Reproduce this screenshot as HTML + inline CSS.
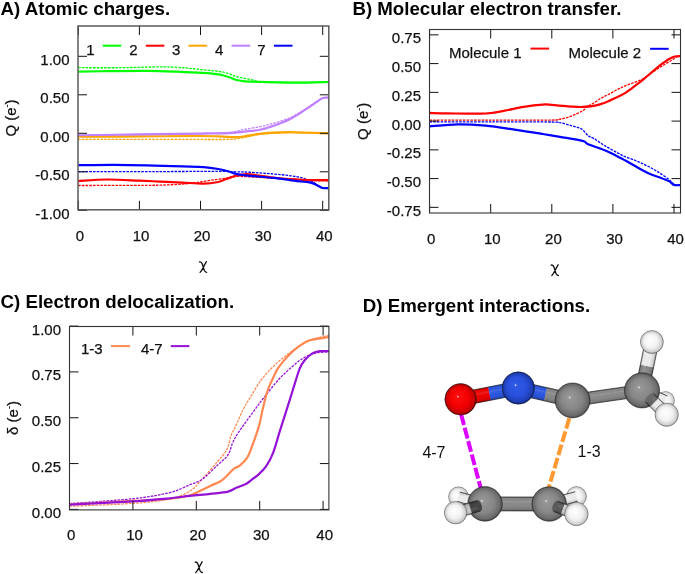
<!DOCTYPE html>
<html><head><meta charset="utf-8"><style>
html,body{margin:0;padding:0;background:#fff;}
svg{display:block;}
text{font-family:"Liberation Sans", sans-serif;fill:#111;}
.tl{font-size:15px;stroke:#111;stroke-width:0.25px;}
.tt{font-size:18.7px;font-weight:bold;fill:#000;}
</style></head><body>
<svg width="685" height="574" viewBox="0 0 685 574">
<defs>
<clipPath id="cA"><rect x="78.0" y="26.0" width="250.8" height="183.8"/></clipPath>
<clipPath id="cB"><rect x="429.5" y="29.5" width="251.0" height="183.5"/></clipPath>
<clipPath id="cC"><rect x="69.5" y="326.5" width="259.4" height="183.39999999999998"/></clipPath>
</defs>
<rect width="685" height="574" fill="#fff"/>
<g style="opacity:0.999">

<text x="0.5" y="14.8" class="tt">A) Atomic charges.</text>
<text x="352.4" y="14.8" class="tt">B) Molecular electron transfer.</text>
<text x="0.5" y="307.5" class="tt">C) Electron delocalization.</text>
<text x="362.8" y="312.4" class="tt">D) Emergent interactions.</text>
<path d="M78.30,67.70 C85.22,67.70 105.59,67.84 119.85,67.70 C134.10,67.55 152.84,66.80 163.84,66.85 C174.84,66.90 179.73,67.55 185.84,68.00 C191.95,68.45 194.80,68.95 200.50,69.54 C206.20,70.13 215.27,70.83 220.05,71.55 C224.84,72.26 226.47,73.02 229.22,73.86 C231.97,74.69 232.58,75.52 236.55,76.55 C240.52,77.58 248.97,79.22 253.05,80.02 C257.12,80.81 256.51,80.97 260.99,81.33 C265.47,81.68 272.70,81.98 279.93,82.17 C287.16,82.36 296.22,82.51 304.37,82.48 C312.52,82.45 324.74,82.09 328.81,82.02" fill="none" stroke="#00ff00" stroke-width="1.3" stroke-dasharray="2.6 1.1" clip-path="url(#cA)"/>
<path d="M78.30,185.51 C88.48,185.48 125.75,185.42 139.40,185.35 C153.05,185.29 153.05,185.33 160.17,185.12 C167.30,184.92 176.16,184.54 182.17,184.12 C188.18,183.70 191.44,183.22 196.22,182.58 C201.01,181.94 206.00,181.00 210.89,180.27 C215.78,179.54 221.38,178.83 225.55,178.19 C229.73,177.55 231.86,176.64 235.94,176.42 C240.01,176.20 243.68,176.56 249.99,176.88 C256.30,177.20 265.78,177.91 273.82,178.34 C281.86,178.78 291.13,179.12 298.26,179.50 C305.39,179.88 311.50,180.40 316.59,180.66 C321.68,180.91 326.77,180.98 328.81,181.04" fill="none" stroke="#ff0000" stroke-width="1.3" stroke-dasharray="2.6 1.1" clip-path="url(#cA)"/>
<path d="M78.30,139.46 C88.48,139.43 119.44,139.31 139.40,139.31 C159.36,139.31 182.98,139.46 198.06,139.46 C213.13,139.46 222.09,139.65 229.83,139.31 C237.57,138.96 239.60,138.18 244.49,137.38 C249.38,136.59 254.27,135.21 259.16,134.53 C264.04,133.85 268.93,133.61 273.82,133.30 C278.71,132.99 283.39,132.81 288.48,132.68 C293.58,132.56 297.65,132.45 304.37,132.53 C311.09,132.61 324.74,133.04 328.81,133.15" fill="none" stroke="#ffa500" stroke-width="1.3" stroke-dasharray="2.6 1.1" clip-path="url(#cA)"/>
<path d="M78.30,135.76 C88.48,135.61 119.44,135.19 139.40,134.84 C159.36,134.49 182.98,134.10 198.06,133.69 C213.13,133.27 222.09,133.08 229.83,132.38 C237.57,131.67 239.46,130.40 244.49,129.45 C249.52,128.50 255.72,127.55 260.01,126.68 C264.30,125.81 266.81,125.13 270.22,124.21 C273.62,123.30 277.01,122.34 280.42,121.21 C283.83,120.08 287.27,119.02 290.68,117.44 C294.10,115.86 297.49,113.79 300.89,111.74 C304.29,109.69 308.37,106.89 311.09,105.12 C313.81,103.35 315.25,102.35 317.20,101.11 C319.16,99.88 320.89,98.34 322.82,97.73 C324.76,97.11 327.81,97.47 328.81,97.42" fill="none" stroke="#c080ff" stroke-width="1.3" stroke-dasharray="2.6 1.1" clip-path="url(#cA)"/>
<path d="M78.30,171.57 C90.52,171.57 128.30,171.59 151.62,171.57 C174.94,171.54 204.17,171.38 218.22,171.42 C232.27,171.45 230.64,171.66 235.94,171.80 C241.23,171.94 243.78,171.90 249.99,172.26 C256.20,172.62 266.39,173.37 273.21,173.96 C280.03,174.55 286.04,175.14 290.93,175.80 C295.82,176.47 299.69,177.24 302.54,177.96 C305.39,178.68 306.20,179.41 308.04,180.12 C309.87,180.82 311.91,181.27 313.54,182.20 C315.16,183.12 316.28,184.70 317.81,185.66 C319.34,186.62 320.87,187.59 322.70,187.97 C324.53,188.35 327.79,187.97 328.81,187.97" fill="none" stroke="#0000ff" stroke-width="1.3" stroke-dasharray="2.6 1.1" clip-path="url(#cA)"/>
<path d="M78.30,71.55 C83.39,71.48 97.34,71.26 108.85,71.16 C120.36,71.06 136.04,70.84 147.34,70.93 C158.65,71.02 167.81,71.38 176.67,71.70 C185.53,72.02 194.90,72.56 200.50,72.86 C206.10,73.15 207.02,73.18 210.28,73.47 C213.53,73.77 216.90,74.00 220.05,74.63 C223.21,75.25 226.47,76.35 229.22,77.24 C231.97,78.14 233.90,79.34 236.55,80.02 C239.20,80.70 240.72,80.99 245.10,81.33 C249.48,81.66 254.06,81.79 262.82,82.02 C271.58,82.25 286.65,82.71 297.65,82.71 C308.65,82.71 323.62,82.13 328.81,82.02" fill="none" stroke="#00ff00" stroke-width="2.2" stroke-linejoin="round" clip-path="url(#cA)"/>
<path d="M78.30,181.04 C83.09,180.78 96.83,179.56 107.02,179.50 C117.20,179.44 130.54,180.31 139.40,180.66 C148.26,181.00 153.05,181.26 160.17,181.58 C167.30,181.90 174.94,182.25 182.17,182.58 C189.40,182.91 197.55,183.68 203.56,183.58 C209.56,183.48 214.65,182.64 218.22,181.96 C221.78,181.28 222.80,180.27 224.94,179.50 C227.08,178.73 229.22,177.99 231.05,177.34 C232.88,176.70 234.10,176.10 235.94,175.65 C237.77,175.20 239.71,174.87 242.05,174.65 C244.39,174.43 244.80,173.87 249.99,174.34 C255.18,174.82 265.37,176.64 273.21,177.50 C281.05,178.36 291.23,179.08 297.04,179.50 C302.84,179.92 302.74,179.95 308.04,180.04 C313.33,180.13 325.35,180.04 328.81,180.04" fill="none" stroke="#ff0000" stroke-width="2.2" stroke-linejoin="round" clip-path="url(#cA)"/>
<path d="M78.30,136.77 C88.48,136.70 119.44,136.51 139.40,136.38 C159.36,136.25 184.82,136.00 198.06,136.00 C211.29,136.00 212.31,136.19 218.83,136.38 C225.35,136.57 232.88,137.15 237.16,137.15 C241.44,137.15 240.83,136.93 244.49,136.38 C248.16,135.83 254.27,134.47 259.16,133.84 C264.04,133.21 268.93,132.90 273.82,132.61 C278.71,132.31 283.60,132.07 288.48,132.07 C293.37,132.07 296.43,132.40 303.15,132.61 C309.87,132.81 324.53,133.18 328.81,133.30" fill="none" stroke="#ffa500" stroke-width="2.2" stroke-linejoin="round" clip-path="url(#cA)"/>
<path d="M78.30,135.23 C88.48,135.10 119.44,134.74 139.40,134.46 C159.36,134.17 182.98,133.76 198.06,133.53 C213.13,133.30 222.09,133.39 229.83,133.07 C237.57,132.75 239.46,132.16 244.49,131.61 C249.52,131.05 255.72,130.54 260.01,129.76 C264.30,128.98 266.81,128.00 270.22,126.91 C273.62,125.82 277.01,124.57 280.42,123.21 C283.83,121.85 287.27,120.51 290.68,118.75 C294.10,116.99 297.49,114.82 300.89,112.66 C304.29,110.51 308.37,107.66 311.09,105.81 C313.81,103.96 315.25,102.87 317.20,101.58 C319.16,100.28 320.89,98.68 322.82,98.03 C324.76,97.39 327.81,97.78 328.81,97.73" fill="none" stroke="#c080ff" stroke-width="2.2" stroke-linejoin="round" clip-path="url(#cA)"/>
<path d="M78.30,165.18 C84.41,165.13 102.33,164.79 114.96,164.87 C127.59,164.95 142.86,165.38 154.06,165.64 C165.27,165.90 173.92,166.18 182.17,166.41 C190.42,166.64 197.55,166.59 203.56,167.03 C209.56,167.46 213.84,168.23 218.22,169.03 C222.60,169.82 226.87,170.99 229.83,171.80 C232.78,172.61 232.58,173.21 235.94,173.88 C239.30,174.55 243.78,175.12 249.99,175.80 C256.20,176.48 265.37,177.09 273.21,177.96 C281.05,178.83 291.23,180.33 297.04,181.04 C302.84,181.75 305.39,181.81 308.04,182.20 C310.68,182.58 311.29,182.77 312.92,183.35 C314.55,183.93 316.18,184.89 317.81,185.66 C319.44,186.43 320.87,187.59 322.70,187.97 C324.53,188.35 327.79,187.97 328.81,187.97" fill="none" stroke="#0000ff" stroke-width="2.2" stroke-linejoin="round" clip-path="url(#cA)"/>
<path d="M78.30,209.80 v-9 M78.30,26.00 v9 M139.40,209.80 v-9 M139.40,26.00 v9 M200.50,209.80 v-9 M200.50,26.00 v9 M261.60,209.80 v-9 M261.60,26.00 v9 M322.70,209.80 v-9 M322.70,26.00 v9 M78.00,56.30 h9 M328.80,56.30 h-9 M78.00,94.80 h9 M328.80,94.80 h-9 M78.00,133.30 h9 M328.80,133.30 h-9 M78.00,171.80 h9 M328.80,171.80 h-9 M78.00,210.30 h9 M328.80,210.30 h-9" stroke="#111" stroke-width="1" fill="none"/>
<rect x="78.00" y="26.00" width="250.80" height="183.80" fill="none" stroke="#555" stroke-width="1.45"/>
<text x="79.90" y="240.50" text-anchor="middle" class="tl">0</text>
<text x="141.00" y="240.50" text-anchor="middle" class="tl">10</text>
<text x="202.10" y="240.50" text-anchor="middle" class="tl">20</text>
<text x="263.20" y="240.50" text-anchor="middle" class="tl">30</text>
<text x="324.30" y="240.50" text-anchor="middle" class="tl">40</text>
<text x="69.50" y="64.70" text-anchor="end" class="tl">1.00</text>
<text x="69.50" y="103.20" text-anchor="end" class="tl">0.50</text>
<text x="69.50" y="141.70" text-anchor="end" class="tl">0.00</text>
<text x="69.50" y="180.20" text-anchor="end" class="tl">-0.50</text>
<text x="69.50" y="218.70" text-anchor="end" class="tl">-1.00</text>
<text x="90.3" y="54.6" text-anchor="middle" class="tl">1</text>
<path d="M102.7,45.7 h18.6" stroke="#00ff00" stroke-width="2"/>
<text x="133.4" y="54.6" text-anchor="middle" class="tl">2</text>
<path d="M145.8,45.7 h18.6" stroke="#ff0000" stroke-width="2"/>
<text x="176.1" y="54.6" text-anchor="middle" class="tl">3</text>
<path d="M188.5,45.7 h18.6" stroke="#ffa500" stroke-width="2"/>
<text x="219.2" y="54.6" text-anchor="middle" class="tl">4</text>
<path d="M231.6,45.7 h18.6" stroke="#c080ff" stroke-width="2"/>
<text x="261.5" y="54.6" text-anchor="middle" class="tl">7</text>
<path d="M273.9,45.7 h18.6" stroke="#0000ff" stroke-width="2"/>
<text transform="translate(16.4,118) rotate(-90)" text-anchor="middle" class="tl">Q (e<tspan font-size="9" dy="-6">-</tspan><tspan dy="6">)</tspan></text>
<path d="M-3.8,-5.0 C-2.6,-5.3 -1.5,-4.6 -0.9,-2.6 C-0.2,-0.4 0.4,1.9 1.1,3.7 C1.6,4.9 2.5,5.4 3.4,5.4 M3.1,-5.3 C1.9,-3.3 0.8,-1.3 -0.1,0.7 C-1.1,2.7 -2.2,4.3 -3.2,5.5" transform="translate(203.30,266.90)" fill="none" stroke="#111" stroke-width="1.3" stroke-linecap="round"/>
<path d="M429.60,120.18 C439.78,120.18 470.33,120.20 490.70,120.18 C511.07,120.16 540.25,120.22 551.80,120.06 C563.35,119.91 556.74,119.93 559.99,119.26 C563.24,118.59 567.52,117.44 571.29,116.04 C575.06,114.64 579.94,112.46 582.59,110.86 C585.25,109.27 585.17,107.93 587.24,106.49 C589.31,105.06 592.84,103.52 595.00,102.24 C597.16,100.96 598.44,99.84 600.19,98.79 C601.94,97.74 603.76,96.83 605.51,95.91 C607.26,94.99 608.97,94.21 610.70,93.27 C612.43,92.33 614.16,91.20 615.89,90.28 C617.63,89.36 619.57,88.48 621.09,87.75 C622.60,87.02 623.17,86.66 625.00,85.91 C626.82,85.16 629.69,84.15 632.02,83.26 C634.36,82.38 636.91,81.50 638.99,80.62 C641.07,79.74 641.93,79.57 644.49,77.97 C647.04,76.38 651.24,73.18 654.33,71.07 C657.41,68.97 660.04,67.16 663.00,65.32 C665.97,63.48 669.76,61.47 672.11,60.03 C674.45,58.60 675.72,57.35 677.06,56.70 C678.39,56.05 679.60,56.22 680.11,56.12" fill="none" stroke="#ff0000" stroke-width="1.3" stroke-dasharray="2.6 1.1" clip-path="url(#cB)"/>
<path d="M429.60,121.91 C439.78,121.91 470.33,121.89 490.70,121.91 C511.07,121.92 540.25,121.89 551.80,122.02 C563.35,122.15 556.74,122.12 559.99,122.71 C563.24,123.30 567.71,124.53 571.29,125.58 C574.88,126.64 578.66,127.33 581.49,129.03 C584.33,130.74 586.20,134.23 588.28,135.82 C590.35,137.41 591.12,136.87 593.96,138.58 C596.80,140.29 600.99,143.47 605.32,146.06 C609.66,148.64 616.71,152.34 619.99,154.10 C623.27,155.87 622.70,155.68 625.00,156.63 C627.30,157.59 630.88,158.69 633.80,159.85 C636.71,161.02 639.56,162.29 642.47,163.65 C645.38,165.01 648.35,166.43 651.27,168.02 C654.19,169.61 657.09,171.32 660.01,173.19 C662.93,175.07 666.76,177.72 668.81,179.29 C670.85,180.86 671.27,181.72 672.29,182.62 C673.31,183.53 673.61,184.27 674.92,184.69 C676.22,185.12 679.24,185.08 680.11,185.16" fill="none" stroke="#0000ff" stroke-width="1.3" stroke-dasharray="2.6 1.1" clip-path="url(#cB)"/>
<path d="M429.60,112.94 C432.66,113.01 438.56,113.30 447.93,113.39 C457.30,113.49 476.34,113.97 485.81,113.51 C495.28,113.05 498.44,111.75 504.75,110.63 C511.07,109.52 517.38,107.86 523.69,106.84 C530.01,105.82 537.95,104.87 542.63,104.54 C547.32,104.21 548.91,104.71 551.80,104.88 C554.69,105.06 556.73,105.29 559.99,105.57 C563.25,105.86 567.58,106.38 571.35,106.61 C575.12,106.84 578.65,107.13 582.59,106.95 C586.54,106.78 591.18,106.32 595.00,105.57 C598.82,104.83 602.02,103.77 605.51,102.47 C608.99,101.17 612.65,99.31 615.89,97.75 C619.14,96.20 622.31,94.77 625.00,93.16 C627.69,91.55 629.69,89.80 632.02,88.09 C634.36,86.39 636.91,84.53 638.99,82.92 C641.07,81.31 641.93,80.58 644.49,78.44 C647.04,76.29 651.65,72.28 654.33,70.04 C657.00,67.80 658.09,66.82 660.56,64.98 C663.02,63.14 666.77,60.42 669.11,59.00 C671.45,57.58 672.78,56.95 674.61,56.47 C676.44,55.99 679.19,56.18 680.11,56.12" fill="none" stroke="#ff0000" stroke-width="2.2" stroke-linejoin="round" clip-path="url(#cB)"/>
<path d="M429.60,126.39 C434.28,126.05 448.34,124.44 457.71,124.32 C467.07,124.20 476.34,124.82 485.81,125.70 C495.28,126.58 505.06,128.23 514.53,129.61 C524.00,130.99 535.06,132.77 542.63,133.98 C550.21,135.19 553.33,135.70 559.99,136.85 C566.65,138.00 577.88,139.63 582.59,140.88 C587.31,142.13 584.49,142.72 588.28,144.33 C592.06,145.94 600.04,148.32 605.32,150.54 C610.61,152.76 616.71,156.04 619.99,157.67 C623.27,159.30 622.70,159.05 625.00,160.31 C627.30,161.58 630.88,163.59 633.80,165.26 C636.71,166.93 639.56,168.77 642.47,170.32 C645.38,171.87 648.35,173.37 651.27,174.57 C654.19,175.78 657.09,176.47 660.01,177.56 C662.93,178.66 666.76,180.09 668.81,181.13 C670.85,182.16 671.27,183.10 672.29,183.78 C673.31,184.45 673.61,184.93 674.92,185.16 C676.22,185.38 679.24,185.16 680.11,185.16" fill="none" stroke="#0000ff" stroke-width="2.2" stroke-linejoin="round" clip-path="url(#cB)"/>
<path d="M429.60,213.00 v-9 M429.60,29.50 v9 M490.70,213.00 v-9 M490.70,29.50 v9 M551.80,213.00 v-9 M551.80,29.50 v9 M612.90,213.00 v-9 M612.90,29.50 v9 M674.00,213.00 v-9 M674.00,29.50 v9 M429.50,34.85 h9 M680.50,34.85 h-9 M429.50,63.60 h9 M680.50,63.60 h-9 M429.50,92.35 h9 M680.50,92.35 h-9 M429.50,121.10 h9 M680.50,121.10 h-9 M429.50,149.85 h9 M680.50,149.85 h-9 M429.50,178.60 h9 M680.50,178.60 h-9 M429.50,207.35 h9 M680.50,207.35 h-9" stroke="#111" stroke-width="1" fill="none"/>
<rect x="429.50" y="29.50" width="251.00" height="183.50" fill="none" stroke="#333" stroke-width="1.1"/>
<text x="431.20" y="243.50" text-anchor="middle" class="tl">0</text>
<text x="492.30" y="243.50" text-anchor="middle" class="tl">10</text>
<text x="553.40" y="243.50" text-anchor="middle" class="tl">20</text>
<text x="614.50" y="243.50" text-anchor="middle" class="tl">30</text>
<text x="675.60" y="243.50" text-anchor="middle" class="tl">40</text>
<text x="421.00" y="43.25" text-anchor="end" class="tl">0.75</text>
<text x="421.00" y="72.00" text-anchor="end" class="tl">0.50</text>
<text x="421.00" y="100.75" text-anchor="end" class="tl">0.25</text>
<text x="421.00" y="129.50" text-anchor="end" class="tl">0.00</text>
<text x="421.00" y="158.25" text-anchor="end" class="tl">-0.25</text>
<text x="421.00" y="187.00" text-anchor="end" class="tl">-0.50</text>
<text x="421.00" y="215.75" text-anchor="end" class="tl">-0.75</text>
<text x="449" y="57.8" class="tl">Molecule 1</text>
<path d="M530.5,48.6 h18.6" stroke="#ff0000" stroke-width="2"/>
<text x="568.6" y="57.8" class="tl">Molecule 2</text>
<path d="M650.1,48.8 h18.6" stroke="#0000ff" stroke-width="2"/>
<text transform="translate(368.2,121.3) rotate(-90)" text-anchor="middle" class="tl">Q (e<tspan font-size="9" dy="-6">-</tspan><tspan dy="6">)</tspan></text>
<path d="M-3.8,-5.0 C-2.6,-5.3 -1.5,-4.6 -0.9,-2.6 C-0.2,-0.4 0.4,1.9 1.1,3.7 C1.6,4.9 2.5,5.4 3.4,5.4 M3.1,-5.3 C1.9,-3.3 0.8,-1.3 -0.1,0.7 C-1.1,2.7 -2.2,4.3 -3.2,5.5" transform="translate(555.00,270.10)" fill="none" stroke="#111" stroke-width="1.3" stroke-linecap="round"/>
<path d="M69.50,506.28 C80.07,505.80 116.15,504.57 132.90,503.35 C149.65,502.13 160.48,501.00 169.99,498.95 C179.50,496.91 184.62,494.34 189.96,491.07 C195.30,487.80 197.46,484.20 202.01,479.34 C206.55,474.48 213.10,466.87 217.22,461.93 C221.34,456.98 224.41,454.10 226.73,449.64 C229.06,445.18 229.80,438.80 231.17,435.16 C232.54,431.53 232.99,432.08 234.97,427.83 C236.96,423.59 240.50,414.82 243.09,409.68 C245.68,404.55 247.54,401.93 250.51,397.04 C253.48,392.15 257.42,385.15 260.90,380.36 C264.39,375.56 267.94,371.83 271.43,368.26 C274.92,364.68 278.35,361.78 281.83,358.91 C285.30,356.04 288.16,353.90 292.29,351.03 C296.42,348.16 302.54,343.85 306.62,341.68 C310.69,339.51 312.96,339.08 316.76,338.01 C320.56,336.95 327.33,335.72 329.44,335.26" fill="none" stroke="#ff8850" stroke-width="1.3" stroke-dasharray="2.6 1.1" clip-path="url(#cC)"/>
<path d="M69.50,503.53 C80.07,502.74 116.15,500.60 132.90,498.77 C149.65,496.94 160.48,494.89 169.99,492.54 C179.50,490.18 184.62,486.85 189.96,484.65 C195.30,482.45 197.46,482.55 202.01,479.34 C206.55,476.13 212.89,469.47 217.22,465.41 C221.55,461.34 225.46,458.63 228.00,454.96 C230.54,451.29 230.75,447.08 232.44,443.41 C234.13,439.75 234.61,438.31 238.14,432.96 C241.67,427.62 248.96,417.69 253.61,411.33 C258.26,404.98 261.34,400.70 266.04,394.84 C270.74,388.97 276.24,381.85 281.83,376.14 C287.42,370.43 294.92,364.07 299.58,360.56 C304.24,357.05 306.71,356.38 309.79,355.06 C312.86,353.75 314.75,353.23 318.03,352.68 C321.30,352.13 327.54,351.91 329.44,351.76" fill="none" stroke="#9612d6" stroke-width="1.3" stroke-dasharray="2.6 1.1" clip-path="url(#cC)"/>
<path d="M69.50,504.27 C80.07,503.72 116.15,501.88 132.90,500.97 C149.65,500.05 160.48,499.72 169.99,498.77 C179.50,497.82 183.25,497.42 189.96,495.29 C196.67,493.15 204.86,488.47 210.25,485.94 C215.64,483.40 218.38,482.91 222.29,480.07 C226.20,477.23 230.75,471.33 233.71,468.89 C236.66,466.45 237.83,467.24 240.05,465.41 C242.26,463.57 245.01,461.10 247.02,457.89 C249.03,454.68 250.08,451.54 252.09,446.16 C254.10,440.78 257.33,431.65 259.07,425.63 C260.80,419.61 261.14,415.70 262.49,410.05 C263.84,404.40 265.69,396.49 267.18,391.72 C268.67,386.96 269.70,385.28 271.43,381.46 C273.16,377.64 275.33,372.47 277.58,368.81 C279.83,365.14 282.13,362.61 284.93,359.46 C287.73,356.31 290.77,352.92 294.38,349.93 C297.99,346.94 302.89,343.33 306.62,341.50 C310.35,339.66 312.96,339.69 316.76,338.93 C320.56,338.17 327.33,337.25 329.44,336.91" fill="none" stroke="#ff8850" stroke-width="2.2" stroke-linejoin="round" clip-path="url(#cC)"/>
<path d="M69.50,504.63 C80.07,504.08 116.15,502.40 132.90,501.33 C149.65,500.27 160.48,499.14 169.99,498.22 C179.50,497.30 183.25,496.57 189.96,495.84 C196.67,495.10 203.91,494.52 210.25,493.82 C216.59,493.12 223.67,492.63 228.00,491.62 C232.33,490.61 233.18,489.08 236.24,487.77 C239.31,486.46 243.74,485.14 246.39,483.74 C249.03,482.33 250.19,480.77 252.09,479.34 C253.99,477.90 255.47,477.29 257.80,475.12 C260.12,472.95 263.50,469.99 266.04,466.32 C268.58,462.66 270.69,459.08 273.01,453.13 C275.34,447.17 277.74,437.76 279.99,430.58 C282.24,423.40 284.47,416.53 286.52,410.05 C288.57,403.57 290.11,398.60 292.29,391.72 C294.46,384.85 297.51,374.06 299.58,368.81 C301.65,363.55 302.59,362.76 304.71,360.19 C306.84,357.63 309.79,354.91 312.32,353.41 C314.86,351.91 317.08,351.58 319.93,351.21 C322.78,350.85 327.86,351.21 329.44,351.21" fill="none" stroke="#9612d6" stroke-width="2.2" stroke-linejoin="round" clip-path="url(#cC)"/>
<path d="M69.50,509.90 v-9 M69.50,326.50 v9 M132.90,509.90 v-9 M132.90,326.50 v9 M196.30,509.90 v-9 M196.30,326.50 v9 M259.70,509.90 v-9 M259.70,326.50 v9 M323.10,509.90 v-9 M323.10,326.50 v9 M69.50,326.10 h9 M328.90,326.10 h-9 M69.50,371.92 h9 M328.90,371.92 h-9 M69.50,417.75 h9 M328.90,417.75 h-9 M69.50,463.57 h9 M328.90,463.57 h-9 M69.50,509.40 h9 M328.90,509.40 h-9" stroke="#111" stroke-width="1" fill="none"/>
<rect x="69.50" y="326.50" width="259.40" height="183.40" fill="none" stroke="#333" stroke-width="1.1"/>
<text x="71.10" y="540.30" text-anchor="middle" class="tl">0</text>
<text x="134.50" y="540.30" text-anchor="middle" class="tl">10</text>
<text x="197.90" y="540.30" text-anchor="middle" class="tl">20</text>
<text x="261.30" y="540.30" text-anchor="middle" class="tl">30</text>
<text x="324.70" y="540.30" text-anchor="middle" class="tl">40</text>
<text x="61.00" y="334.50" text-anchor="end" class="tl">1.00</text>
<text x="61.00" y="380.32" text-anchor="end" class="tl">0.75</text>
<text x="61.00" y="426.15" text-anchor="end" class="tl">0.50</text>
<text x="61.00" y="471.97" text-anchor="end" class="tl">0.25</text>
<text x="61.00" y="517.80" text-anchor="end" class="tl">0.00</text>
<text x="81" y="354" class="tl">1-3</text>
<path d="M111,346.1 h19" stroke="#ff8850" stroke-width="2"/>
<text x="141" y="354" class="tl">4-7</text>
<path d="M170.8,346.1 h18.6" stroke="#9612d6" stroke-width="2"/>
<text transform="translate(17.5,418) rotate(-90)" text-anchor="middle" class="tl">δ (e<tspan font-size="9" dy="-6">-</tspan><tspan dy="6">)</tspan></text>
<path d="M-3.8,-5.0 C-2.6,-5.3 -1.5,-4.6 -0.9,-2.6 C-0.2,-0.4 0.4,1.9 1.1,3.7 C1.6,4.9 2.5,5.4 3.4,5.4 M3.1,-5.3 C1.9,-3.3 0.8,-1.3 -0.1,0.7 C-1.1,2.7 -2.2,4.3 -3.2,5.5" transform="translate(199.00,567.10)" fill="none" stroke="#111" stroke-width="1.3" stroke-linecap="round"/>
<defs>
<radialGradient id="gC" cx="0.5" cy="0.5" r="0.5" fx="0.4" fy="0.4" gradientUnits="objectBoundingBox"><stop offset="0" stop-color="#9a9a9a"/><stop offset="0.6" stop-color="#868686"/><stop offset="0.9" stop-color="#6a6a6a"/><stop offset="1" stop-color="#404040"/></radialGradient>
<radialGradient id="gO" cx="0.5" cy="0.5" r="0.5" fx="0.4" fy="0.4" gradientUnits="objectBoundingBox"><stop offset="0" stop-color="#ff1010"/><stop offset="0.6" stop-color="#f20000"/><stop offset="0.9" stop-color="#c00000"/><stop offset="1" stop-color="#700000"/></radialGradient>
<radialGradient id="gN" cx="0.5" cy="0.5" r="0.5" fx="0.4" fy="0.4" gradientUnits="objectBoundingBox"><stop offset="0" stop-color="#2f5ce8"/><stop offset="0.6" stop-color="#2850dc"/><stop offset="0.9" stop-color="#1c3cb0"/><stop offset="1" stop-color="#0e2070"/></radialGradient>
<radialGradient id="gH" cx="0.5" cy="0.5" r="0.5" fx="0.4" fy="0.4" gradientUnits="objectBoundingBox"><stop offset="0" stop-color="#ffffff"/><stop offset="0.6" stop-color="#f2f2f2"/><stop offset="0.9" stop-color="#cdcdcd"/><stop offset="1" stop-color="#8c8c8c"/></radialGradient>
<linearGradient id="cyl" x1="0" y1="0" x2="0" y2="1"><stop offset="0" stop-color="#000" stop-opacity="0.35"/><stop offset="0.12" stop-color="#000" stop-opacity="0.0"/><stop offset="0.35" stop-color="#fff" stop-opacity="0.12"/><stop offset="0.6" stop-color="#000" stop-opacity="0.0"/><stop offset="0.88" stop-color="#000" stop-opacity="0.12"/><stop offset="1" stop-color="#000" stop-opacity="0.40"/></linearGradient>
</defs>
<path d="M457.6,401.1 L482,493" stroke="#dd00ff" stroke-width="4" stroke-dasharray="11 2.8"/>
<path d="M573.3,404.9 L548,490" stroke="#ff9a33" stroke-width="4" stroke-dasharray="11 2.8"/>
<circle cx="665.50" cy="400.50" r="9.00" fill="url(#gH)" stroke="#1a1a1a" stroke-width="0.8" stroke-opacity="0.35"/>
<g transform="translate(642.00,390.40) rotate(23.26)">
<rect x="0" y="-5.00" width="13.09" height="10.00" fill="#8a8a8a"/>
<rect x="12.79" y="-5.00" width="12.79" height="10.00" fill="#efefef"/>
<rect x="0" y="-5.00" width="25.58" height="10.00" fill="url(#cyl)"/>
<path d="M0,-5.00 H25.58 M0,5.00 H25.58" stroke="#1a1a1a" stroke-width="0.8" stroke-opacity="0.75"/>
</g>
<g transform="translate(642.00,390.40) rotate(-78.44)">
<rect x="0" y="-6.75" width="25.00" height="13.50" fill="#8a8a8a"/>
<rect x="24.70" y="-6.75" width="24.70" height="13.50" fill="#efefef"/>
<rect x="0" y="-6.75" width="49.40" height="13.50" fill="url(#cyl)"/>
<path d="M0,-6.75 H49.40 M0,6.75 H49.40" stroke="#1a1a1a" stroke-width="0.8" stroke-opacity="0.75"/>
</g>
<circle cx="651.90" cy="342.00" r="11.50" fill="url(#gH)" stroke="#1a1a1a" stroke-width="0.8" stroke-opacity="0.35"/>
<circle cx="649.94" cy="340.05" r="0.9" fill="#fff" fill-opacity="0.75"/>
<g transform="translate(572.60,400.40) rotate(-8.20)">
<rect x="0" y="-6.00" width="70.12" height="12.00" fill="#8a8a8a"/>
<rect x="0" y="-6.00" width="70.12" height="12.00" fill="url(#cyl)"/>
<path d="M0,-6.00 H70.12 M0,6.00 H70.12" stroke="#1a1a1a" stroke-width="0.8" stroke-opacity="0.75"/>
</g>
<circle cx="642.00" cy="390.40" r="17.60" fill="url(#gC)" stroke="#1a1a1a" stroke-width="0.8" stroke-opacity="0.6"/>
<circle cx="639.01" cy="387.41" r="0.9" fill="#fff" fill-opacity="0.75"/>
<g transform="translate(649.41,397.69) rotate(44.53)">
<rect x="0" y="-6.00" width="6.93" height="12.00" fill="#6a6a6a"/>
<rect x="0" y="-6.00" width="6.93" height="12.00" fill="url(#cyl)"/>
<path d="M0,-6.00 H6.93 M0,6.00 H6.93" stroke="#1a1a1a" stroke-width="0.8" stroke-opacity="0.75"/>
</g>
<g transform="translate(654.35,402.55) rotate(44.53)">
<rect x="0" y="-6.00" width="17.32" height="12.00" fill="#efefef"/>
<rect x="0" y="-6.00" width="17.32" height="12.00" fill="url(#cyl)"/>
<path d="M0,-6.00 H17.32 M0,6.00 H17.32" stroke="#1a1a1a" stroke-width="0.8" stroke-opacity="0.75"/>
</g>
<ellipse cx="649.41" cy="397.69" rx="2.5" ry="6.00" transform="rotate(44.53 649.41 397.69)" fill="#6a6a6a"/>
<circle cx="666.70" cy="414.70" r="11.70" fill="url(#gH)" stroke="#1a1a1a" stroke-width="0.8" stroke-opacity="0.35"/>
<circle cx="664.71" cy="412.71" r="0.9" fill="#fff" fill-opacity="0.75"/>
<g transform="translate(518.30,388.00) rotate(12.86)">
<rect x="0" y="-6.75" width="28.15" height="13.50" fill="#2c58e4"/>
<rect x="27.85" y="-6.75" width="27.85" height="13.50" fill="#8a8a8a"/>
<rect x="0" y="-6.75" width="55.70" height="13.50" fill="url(#cyl)"/>
<path d="M0,-6.75 H55.70 M0,6.75 H55.70" stroke="#1a1a1a" stroke-width="0.8" stroke-opacity="0.75"/>
</g>
<g transform="translate(460.60,399.30) rotate(-11.08)">
<rect x="0" y="-6.75" width="29.70" height="13.50" fill="#f00000"/>
<rect x="29.40" y="-6.75" width="29.40" height="13.50" fill="#2c58e4"/>
<rect x="0" y="-6.75" width="58.80" height="13.50" fill="url(#cyl)"/>
<path d="M0,-6.75 H58.80 M0,6.75 H58.80" stroke="#1a1a1a" stroke-width="0.8" stroke-opacity="0.75"/>
</g>
<circle cx="460.60" cy="399.30" r="15.80" fill="url(#gO)" stroke="#1a1a1a" stroke-width="0.8" stroke-opacity="0.6"/>
<circle cx="457.91" cy="396.61" r="0.9" fill="#fff" fill-opacity="0.75"/>
<circle cx="518.30" cy="388.00" r="16.20" fill="url(#gN)" stroke="#1a1a1a" stroke-width="0.8" stroke-opacity="0.6"/>
<circle cx="515.55" cy="385.25" r="0.9" fill="#fff" fill-opacity="0.75"/>
<circle cx="572.60" cy="400.40" r="17.50" fill="url(#gC)" stroke="#1a1a1a" stroke-width="0.8" stroke-opacity="0.6"/>
<circle cx="569.62" cy="397.42" r="0.9" fill="#fff" fill-opacity="0.75"/>
<circle cx="458.50" cy="496.80" r="10.00" fill="url(#gH)" stroke="#1a1a1a" stroke-width="0.8" stroke-opacity="0.35"/>
<circle cx="576.50" cy="496.50" r="10.00" fill="url(#gH)" stroke="#1a1a1a" stroke-width="0.8" stroke-opacity="0.35"/>
<g transform="translate(485.00,503.90) rotate(0.09)">
<rect x="0" y="-7.00" width="64.20" height="14.00" fill="#8a8a8a"/>
<rect x="0" y="-7.00" width="64.20" height="14.00" fill="url(#cyl)"/>
<path d="M0,-7.00 H64.20 M0,7.00 H64.20" stroke="#1a1a1a" stroke-width="0.8" stroke-opacity="0.75"/>
</g>
<g transform="translate(485.00,503.90) rotate(-165.00)">
<rect x="0" y="-5.00" width="14.02" height="10.00" fill="#8a8a8a"/>
<rect x="13.72" y="-5.00" width="13.72" height="10.00" fill="#efefef"/>
<rect x="0" y="-5.00" width="27.43" height="10.00" fill="url(#cyl)"/>
<path d="M0,-5.00 H27.43 M0,5.00 H27.43" stroke="#1a1a1a" stroke-width="0.8" stroke-opacity="0.75"/>
</g>
<g transform="translate(549.20,504.00) rotate(-15.36)">
<rect x="0" y="-5.00" width="14.46" height="10.00" fill="#8a8a8a"/>
<rect x="14.16" y="-5.00" width="14.16" height="10.00" fill="#efefef"/>
<rect x="0" y="-5.00" width="28.31" height="10.00" fill="url(#cyl)"/>
<path d="M0,-5.00 H28.31 M0,5.00 H28.31" stroke="#1a1a1a" stroke-width="0.8" stroke-opacity="0.75"/>
</g>
<circle cx="485.00" cy="503.90" r="17.30" fill="url(#gC)" stroke="#1a1a1a" stroke-width="0.8" stroke-opacity="0.6"/>
<circle cx="482.06" cy="500.96" r="0.9" fill="#fff" fill-opacity="0.75"/>
<circle cx="549.20" cy="504.00" r="17.30" fill="url(#gC)" stroke="#1a1a1a" stroke-width="0.8" stroke-opacity="0.6"/>
<circle cx="546.26" cy="501.06" r="0.9" fill="#fff" fill-opacity="0.75"/>
<g transform="translate(479.12,505.66) rotate(163.34)">
<rect x="0" y="-5.50" width="9.21" height="11.00" fill="#454545"/>
<rect x="0" y="-5.50" width="9.21" height="11.00" fill="url(#cyl)"/>
<path d="M0,-5.50 H9.21 M0,5.50 H9.21" stroke="#1a1a1a" stroke-width="0.8" stroke-opacity="0.75"/>
</g>
<g transform="translate(470.30,508.30) rotate(163.34)">
<rect x="0" y="-5.50" width="15.34" height="11.00" fill="#c4c4c4"/>
<rect x="0" y="-5.50" width="15.34" height="11.00" fill="url(#cyl)"/>
<path d="M0,-5.50 H15.34 M0,5.50 H15.34" stroke="#1a1a1a" stroke-width="0.8" stroke-opacity="0.75"/>
</g>
<ellipse cx="479.12" cy="505.66" rx="2.5" ry="5.50" transform="rotate(163.34 479.12 505.66)" fill="#454545"/>
<g transform="translate(555.18,506.20) rotate(20.19)">
<rect x="0" y="-5.50" width="8.11" height="11.00" fill="#5a5a5a"/>
<rect x="0" y="-5.50" width="8.11" height="11.00" fill="url(#cyl)"/>
<path d="M0,-5.50 H8.11 M0,5.50 H8.11" stroke="#1a1a1a" stroke-width="0.8" stroke-opacity="0.75"/>
</g>
<g transform="translate(562.80,509.00) rotate(20.19)">
<rect x="0" y="-5.50" width="14.49" height="11.00" fill="#d0d0d0"/>
<rect x="0" y="-5.50" width="14.49" height="11.00" fill="url(#cyl)"/>
<path d="M0,-5.50 H14.49 M0,5.50 H14.49" stroke="#1a1a1a" stroke-width="0.8" stroke-opacity="0.75"/>
</g>
<ellipse cx="555.18" cy="506.20" rx="2.5" ry="5.50" transform="rotate(20.19 555.18 506.20)" fill="#5a5a5a"/>
<circle cx="455.60" cy="512.70" r="11.30" fill="url(#gH)" stroke="#1a1a1a" stroke-width="0.8" stroke-opacity="0.35"/>
<circle cx="453.68" cy="510.78" r="0.9" fill="#fff" fill-opacity="0.75"/>
<circle cx="576.40" cy="514.00" r="11.80" fill="url(#gH)" stroke="#1a1a1a" stroke-width="0.8" stroke-opacity="0.35"/>
<circle cx="574.39" cy="511.99" r="0.9" fill="#fff" fill-opacity="0.75"/>
<text x="422.4" y="457.5" style="font-size:16px">4-7</text>
<text x="577.6" y="457" style="font-size:16px">1-3</text>
</g></svg></body></html>
